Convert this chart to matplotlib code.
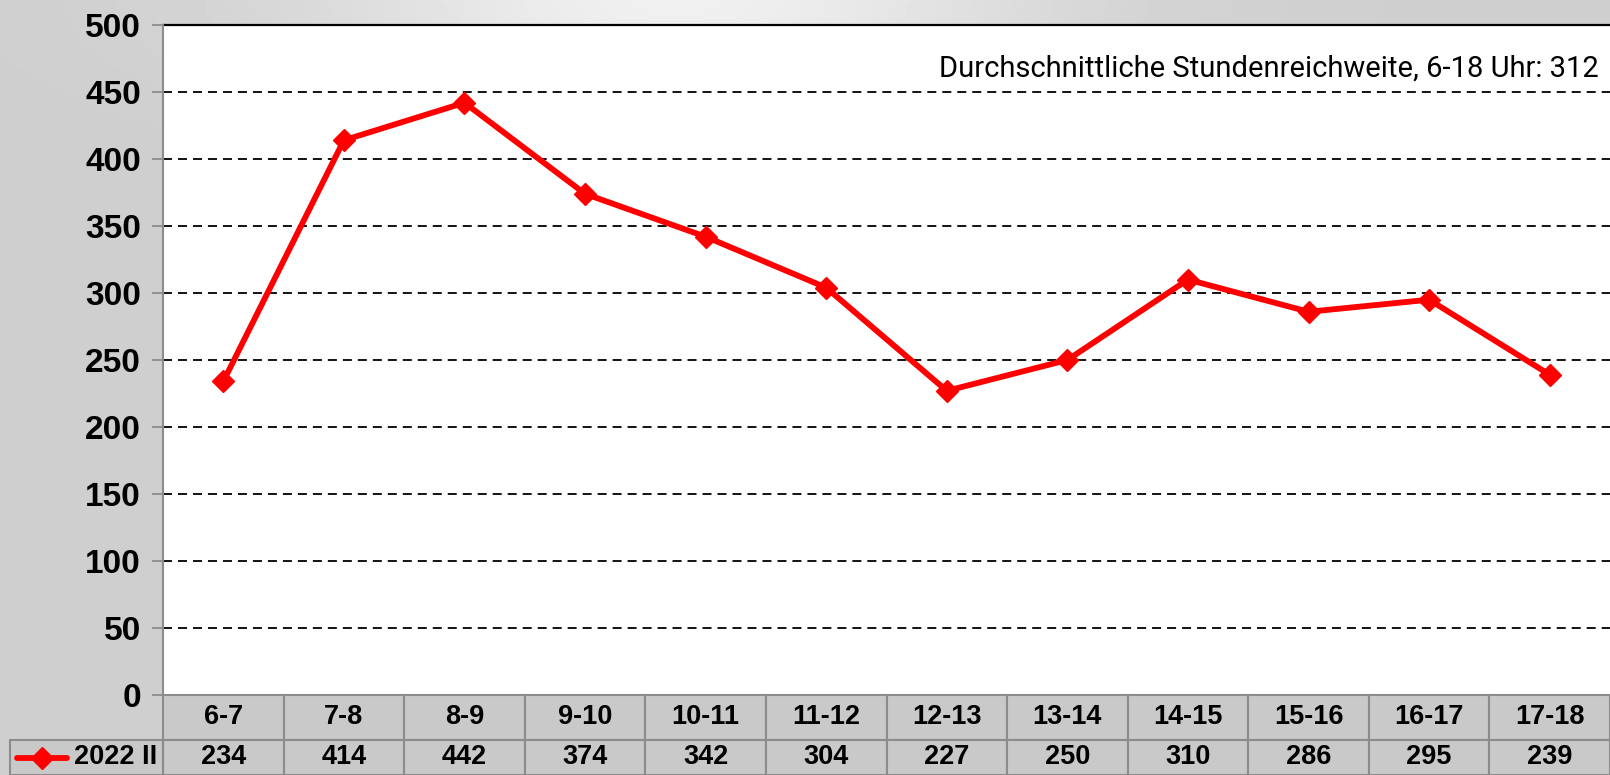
import numpy as np
import matplotlib.pyplot as plt
import matplotlib.transforms as mtransforms
from matplotlib.patches import Rectangle
from matplotlib.lines import Line2D

# Stundenreichweite 2022 II
hours = ['6-7', '7-8', '8-9', '9-10', '10-11', '11-12',
         '12-13', '13-14', '14-15', '15-16', '16-17', '17-18']
reach = [234, 414, 442, 374, 342, 304, 227, 250, 310, 286, 295, 239]
series_name = '2022 II'
y_ticks = [0, 50, 100, 150, 200, 250, 300, 350, 400, 450, 500]
note = 'Durchschnittliche Stundenreichweite, 6-18 Uhr: 312'

W, H = 1610, 775
edge = '#8c8c8c'
cell_bg = '#c9c9c9'
red = '#ff0000'

fig = plt.figure(figsize=(W / 100, H / 100), dpi=100)

# grey background with a light spot at the top
bgax = fig.add_axes([0, 0, 1, 1], zorder=-10)
gx, gy = np.meshgrid(np.linspace(0, 1, 320), np.linspace(0, 1, 160))
spot = np.exp(-(((gx - 0.42) / 0.22) ** 2 + (gy / 0.12) ** 2))
bgax.imshow(0.81 + 0.13 * spot, cmap='gray', vmin=0, vmax=1,
            aspect='auto', extent=[0, 1, 0, 1], origin='upper')
bgax.axis('off')

ax = fig.add_axes([163 / W, 1 - 695 / H, 1447 / W, 670 / H])
ax.set_facecolor('white')

x = list(range(len(hours)))
ax.plot(x, reach, color=red, lw=4.2, marker='D', markersize=11,
        zorder=3, clip_on=False)

ax.set_xlim(-0.5, len(hours) - 0.5)
ax.set_ylim(0, 500)
ax.set_yticks(y_ticks)
ax.set_yticklabels([str(t) for t in y_ticks], fontsize=24,
                   fontweight='bold', family='Liberation Sans')
ax.tick_params(axis='y', length=8, width=1.3, color=edge, pad=8)
ax.set_xticks([])
for t in y_ticks[1:-1]:
    ax.axhline(t, color='black', lw=1.3, ls=(0, (5, 3.3)), zorder=1)
ax.axhline(y_ticks[-1], color='black', lw=1.6, zorder=1, clip_on=False)

for s in ['top', 'right']:
    ax.spines[s].set_visible(False)
ax.spines['left'].set_color(edge)
ax.spines['left'].set_linewidth(1.5)
ax.spines['bottom'].set_visible(False)

ax.text(0.992, 0.935, note, transform=ax.transAxes, ha='right', va='center',
        fontsize=21, family='Roboto', fontweight='normal')

# data table under the plot: x in data units, y in axes units
trans = mtransforms.blended_transform_factory(ax.transData, ax.transAxes)
head_top, head_bot, val_bot = 0, -45 / 670, -80 / 670
txt = dict(fontsize=19.5, fontweight='bold', family='Liberation Sans',
           ha='center', va='center', clip_on=False)
for i, (h, v) in enumerate(zip(hours, reach)):
    for y0, y1, s in [(head_bot, head_top, h), (val_bot, head_bot, str(v))]:
        ax.add_patch(Rectangle((i - 0.5, y0), 1, y1 - y0, transform=trans,
                               facecolor=cell_bg, edgecolor=edge, lw=1.5,
                               clip_on=False, zorder=4))
        ax.text(i, (y0 + y1) / 2, s, transform=trans, zorder=5, **txt)

lab_x0 = (10 - 163) / 1447
ax.add_patch(Rectangle((lab_x0, val_bot), -lab_x0, head_bot - val_bot,
                       transform=ax.transAxes, facecolor=cell_bg,
                       edgecolor=edge, lw=1.5, clip_on=False, zorder=4))
ax.text(-6 / 1447, (val_bot + head_bot) / 2, series_name,
        transform=ax.transAxes, zorder=5,
        **{**txt, 'ha': 'right'})

# legend key in the row label cell
ky = (val_bot + head_bot) / 2
kx = [(17 - 163) / 1447, (42 - 163) / 1447, (67 - 163) / 1447]
ax.add_line(Line2D(kx, [ky] * 3, transform=ax.transAxes, color=red, lw=4.2,
                   marker='D', markersize=11, markevery=[1], clip_on=False,
                   solid_capstyle='round', zorder=5))

fig.savefig('out.png', dpi=100)
